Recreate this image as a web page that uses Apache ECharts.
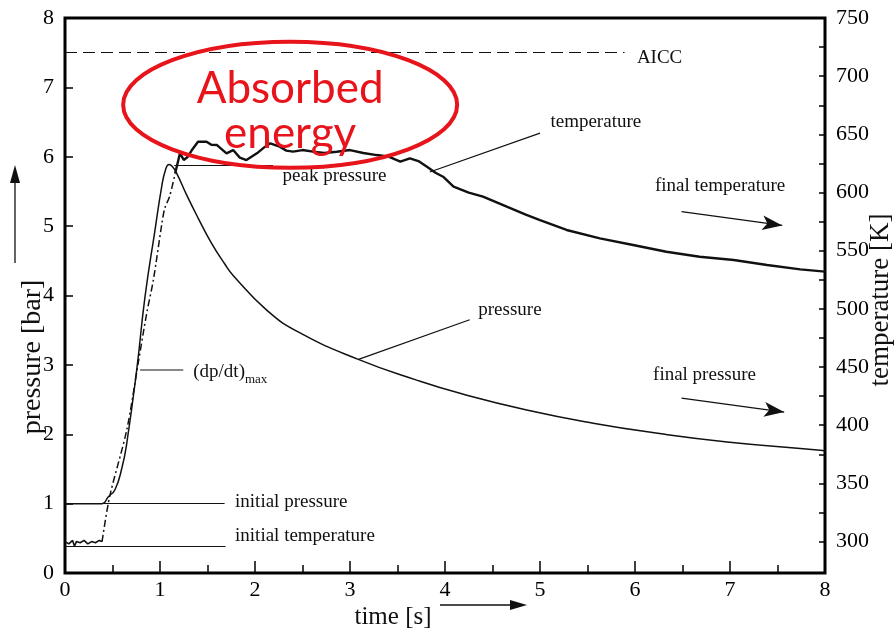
<!DOCTYPE html>
<html><head><meta charset="utf-8">
<script src="https://cdn.jsdelivr.net/npm/echarts@6/dist/echarts.min.js"></script>
<style>html,body{margin:0;padding:0;background:#fff}#c{width:894px;height:632px}</style>
</head><body><div id="c"></div>
<script>
// ---- data ----
const timeTicks = [0, 1, 2, 3, 4, 5, 6, 7, 8];
const pressureTicks = [0, 1, 2, 3, 4, 5, 6, 7, 8];
const temperatureTicks = [300, 350, 400, 450, 500, 550, 600, 650, 700, 750];
const temperatureMinorTicks = [300, 325, 350, 375, 400, 425, 450, 475, 500, 525, 550, 575, 600, 625, 650, 675, 700, 725, 750];

const pressureTime   = [0, 0.2, 0.39, 0.456, 0.526, 0.6, 0.65, 0.755, 0.842, 0.947, 1.018, 1.06, 1.095, 1.13, 1.176, 1.28, 1.40, 1.54, 1.684, 1.77, 2.123, 2.474, 3.087, 3.702, 4.158, 4.86, 5.56, 6.26, 6.97, 7.95, 8.0];
const pressureValues = [1.0, 1.0, 1.0, 1.10, 1.20, 1.52, 1.87, 2.93, 3.98, 4.94, 5.57, 5.82, 5.89, 5.86, 5.76, 5.45, 5.12, 4.76, 4.45, 4.29, 3.79, 3.46, 3.08, 2.78, 2.59, 2.35, 2.16, 2.01, 1.89, 1.77, 1.76];

const tempInitTime   = [0, 0.04, 0.08, 0.1, 0.12, 0.16, 0.2, 0.24, 0.28, 0.32, 0.36, 0.39];
const tempInitValues = [300, 298, 301, 296, 300, 299, 301, 298, 300, 299, 301, 300];

const tempRiseTime   = [0.39, 0.47, 0.65, 0.77, 0.86, 0.93, 1.02, 1.05, 1.10, 1.16];
const tempRiseValues = [300, 338.6, 395.9, 453.2, 496.2, 524.8, 573.5, 586.4, 596.4, 616.5];

const tempMainTime   = [1.16, 1.21, 1.25, 1.29, 1.34, 1.40, 1.49, 1.54, 1.60, 1.70, 1.77, 1.84, 1.91, 2.02, 2.10, 2.16, 2.26, 2.33, 2.40, 2.50, 2.61, 2.73, 2.86, 3.00, 3.14, 3.28, 3.40, 3.53, 3.63, 3.72, 3.81, 3.90, 3.98, 4.09, 4.25, 4.40, 4.65, 4.85, 5.00, 5.28, 5.63, 5.98, 6.33, 6.68, 7.04, 7.39, 7.74, 8.0];
const tempMainValues = [616.5, 633.7, 628, 630.5, 637, 643.7, 643.7, 641, 640.8, 633.7, 636.5, 630, 627.9, 633.7, 639, 642.3, 639.4, 636, 635.1, 636.5, 635.1, 634, 635.1, 636.5, 634, 632.2, 631, 626.5, 629.4, 627, 622.2, 617, 613.6, 605.0, 600, 596.4, 587.8, 581, 576.3, 567.8, 560.6, 554.9, 549.1, 544.8, 542.0, 537.7, 534.0, 532.0];

// ---- chart ----
const serif = '"Liberation Serif", "Times New Roman", serif';
const ink = '#111';
const pair = (xs, ys) => xs.map((x, i) => [x, ys[i]]);

// annotation geometry in data coordinates (time, pressure)
const annotLines = [
  { from: [0, 7.5], to: [5.89, 7.5], type: [12, 6], w: 1.2 },
  { from: [1.15, 5.88], to: [2.19, 5.88] },
  { from: [3.84, 5.78], to: [5.0, 6.34] },
  { from: [3.09, 3.08], to: [4.26, 3.65] },
  { from: [0.79, 2.93], to: [1.245, 2.93], color: '#888', w: 2 },
  { from: [0, 1.0], to: [1.68, 1.0] },
  { from: [0, 0.38], to: [1.69, 0.38] },
  { from: [6.49, 5.21], to: [7.55, 5.01], arrow: true },
  { from: [6.49, 2.52], to: [7.57, 2.32], arrow: true }
];
const annotTexts = [
  { t: 'AICC', at: [6.02, 7.43] },
  { t: 'peak pressure', at: [2.29, 5.72] },
  { t: 'temperature', at: [5.11, 6.50] },
  { t: 'final temperature', at: [6.21, 5.58] },
  { t: 'pressure', at: [4.35, 3.79] },
  { t: 'final pressure', at: [6.19, 2.85] },
  { t: 'initial pressure', at: [1.79, 1.03] },
  { t: 'initial temperature', at: [1.79, 0.53] }
];

const chart = echarts.init(document.getElementById('c'));
const tickStyle = { color: '#000', width: 1.5 };
const labelStyle = { color: '#000', fontFamily: serif, fontSize: 22 };

chart.setOption({
  animation: false,
  grid: { left: 65, right: 69, top: 18, bottom: 59, show: true, borderColor: '#000', borderWidth: 3, backgroundColor: 'transparent' },
  xAxis: {
    type: 'value', min: timeTicks[0], max: timeTicks[timeTicks.length - 1], interval: 1,
    axisLine: { show: false },
    axisTick: { show: true, inside: true, length: 12, lineStyle: tickStyle },
    minorTick: { show: true, splitNumber: 2, length: 8, lineStyle: tickStyle },
    splitLine: { show: false },
    axisLabel: Object.assign({ margin: 6 }, labelStyle)
  },
  yAxis: [
    {
      type: 'value', min: pressureTicks[0], max: pressureTicks[pressureTicks.length - 1], interval: 1, position: 'left',
      axisLine: { show: false },
      axisTick: { show: true, inside: true, length: 8, lineStyle: tickStyle },
      splitLine: { show: false },
      axisLabel: Object.assign({ margin: 11 }, labelStyle)
    },
    {
      type: 'value', min: 273, max: 750, position: 'right',
      axisLine: { show: false },
      axisTick: { show: true, inside: true, length: 6, lineStyle: tickStyle, customValues: temperatureMinorTicks },
      splitLine: { show: false },
      axisLabel: Object.assign({ margin: 11, customValues: temperatureTicks }, labelStyle)
    }
  ],
  series: [
    {
      name: 'pressure', type: 'line', data: pair(pressureTime, pressureValues),
      showSymbol: false, smooth: 0.5, z: 3,
      lineStyle: { color: ink, width: 1.5 },
      markLine: {
        silent: true, animation: false, label: { show: false }, symbol: ['none', 'none'],
        data: annotLines.map(l => [
          { coord: l.from, symbol: 'none', lineStyle: { color: l.color || ink, width: l.w || 1.2, type: l.type || 'solid' } },
          { coord: l.to, symbol: l.arrow ? 'arrow' : 'none', symbolSize: [11, 20] }
        ])
      }
    },
    {
      name: 'temperature initial', type: 'line', yAxisIndex: 1, data: pair(tempInitTime, tempInitValues),
      showSymbol: false, lineStyle: { color: ink, width: 1.6 }
    },
    {
      name: 'temperature rise', type: 'line', yAxisIndex: 1, data: pair(tempRiseTime, tempRiseValues),
      showSymbol: false, smooth: 0.3, lineStyle: { color: ink, width: 1.5, type: [7, 3, 2, 3] }
    },
    {
      name: 'temperature', type: 'line', yAxisIndex: 1, data: pair(tempMainTime, tempMainValues),
      showSymbol: false, lineStyle: { color: ink, width: 2.4 }
    }
  ]
});

const px = v => chart.convertToPixel({ xAxisIndex: 0, yAxisIndex: 0 }, v);
const graphics = [];
annotTexts.forEach(a => {
  const p = px(a.at);
  graphics.push({ type: 'text', x: p[0], y: p[1], style: { text: a.t, fill: ink, font: '19px ' + serif, textAlign: 'left', textVerticalAlign: 'middle' } });
});
// (dp/dt)max
const dp = px([1.35, 2.90]);
const ctx = document.createElement('canvas').getContext('2d');
ctx.font = '19px ' + serif;
const wdp = ctx.measureText('(dp/dt)').width;
graphics.push({ type: 'text', x: dp[0], y: dp[1], style: { text: '(dp/dt)', fill: ink, font: '19px ' + serif, textAlign: 'left', textVerticalAlign: 'middle' } });
graphics.push({ type: 'text', x: dp[0] + wdp, y: dp[1] + 8, style: { text: 'max', fill: ink, font: '13px ' + serif, textAlign: 'left', textVerticalAlign: 'middle' } });

// axis names and arrows
graphics.push({ type: 'text', x: 393, y: 617, style: { text: 'time [s]', fill: ink, font: '25px ' + serif, textAlign: 'center', textVerticalAlign: 'middle' } });
graphics.push({ type: 'line', shape: { x1: 440, y1: 605, x2: 512, y2: 605 }, style: { stroke: ink, lineWidth: 1.3 } });
graphics.push({ type: 'polygon', shape: { points: [[527, 605], [510, 600], [510, 610]] }, style: { fill: ink } });
graphics.push({ type: 'text', x: 33, y: 357, rotation: Math.PI / 2, style: { text: 'pressure [bar]', fill: ink, font: '28px ' + serif, textAlign: 'center', textVerticalAlign: 'middle' } });
graphics.push({ type: 'line', shape: { x1: 15, y1: 263, x2: 15, y2: 180 }, style: { stroke: ink, lineWidth: 1.3 } });
graphics.push({ type: 'polygon', shape: { points: [[15, 165], [10, 183], [20, 183]] }, style: { fill: ink } });
graphics.push({ type: 'text', x: 881, y: 300, rotation: Math.PI / 2, style: { text: 'temperature [K]', fill: ink, font: '27px ' + serif, textAlign: 'center', textVerticalAlign: 'middle' } });

// red "Absorbed energy" ellipse
const ec = px([2.37, 6.75]);
graphics.push({ type: 'ellipse', shape: { cx: ec[0], cy: ec[1], rx: 167, ry: 63 }, style: { fill: 'none', stroke: '#e8141b', lineWidth: 4 }, z: 10 });
graphics.push({ type: 'text', x: ec[0], y: ec[1] - 16, z: 11, style: { text: 'Absorbed', fill: '#e8141b', font: '44px Lato, "Open Sans", sans-serif', textAlign: 'center', textVerticalAlign: 'middle' } });
graphics.push({ type: 'text', x: ec[0], y: ec[1] + 29, z: 11, style: { text: 'energy', fill: '#e8141b', font: '44px Lato, "Open Sans", sans-serif', textAlign: 'center', textVerticalAlign: 'middle' } });

chart.setOption({ graphic: graphics });
</script>
</body></html>
